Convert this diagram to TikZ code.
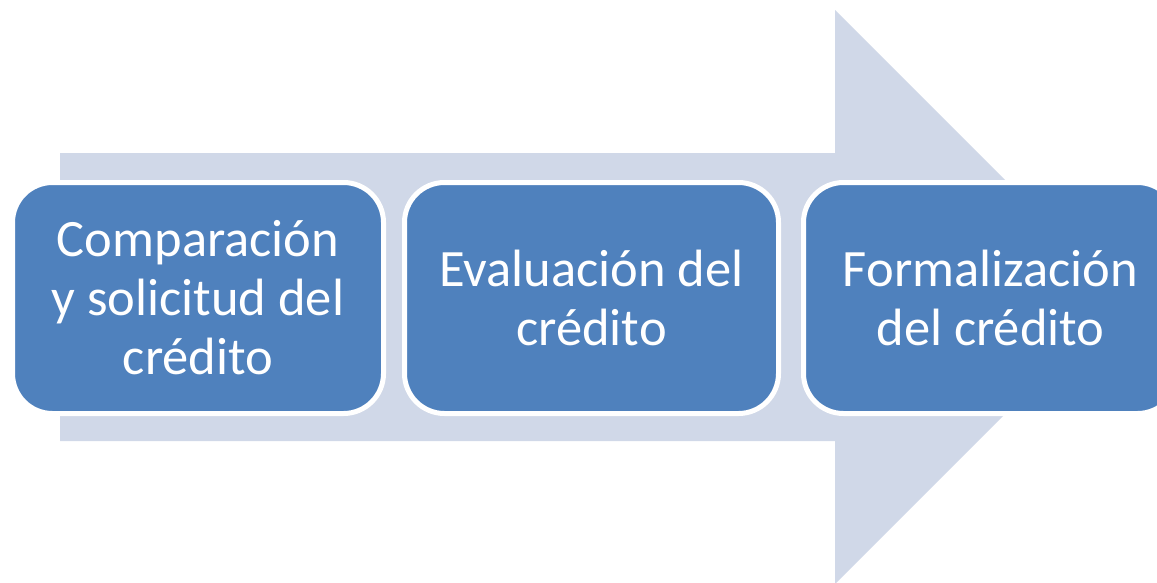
\documentclass[tikz,border=0pt]{standalone}
\usepackage{fontspec}
\setmainfont{Carlito}
\definecolor{arrowfill}{HTML}{D0D8E8}
\definecolor{boxfill}{HTML}{4F81BD}
\begin{document}
\begin{tikzpicture}[x=1pt,y=-1pt,
  stagebox/.style={draw=white, line width=5pt, fill=boxfill, rounded corners=40pt,
    minimum width=372pt, minimum height=231pt, inner sep=0pt, text=white,
    align=center, font=\fontsize{52.5}{59}\selectfont}]
\useasboundingbox (0,0) rectangle (1157,582);
\fill[white] (0,0) rectangle (1157,582);
\fill[arrowfill] (60,153) -- (835,153) -- (835,10) -- (1122,297) -- (835,584) -- (835,441) -- (60,441) -- cycle;
\node[stagebox, minimum width=371pt] (b1) at (198,298) {Comparación\\y solicitud del\\crédito};
\node[stagebox, minimum width=374pt] (b2) at (591.5,298) {Evaluación del\\crédito};
\node[stagebox, minimum width=374pt] (b3) at (990.5,298) {Formalización\\del crédito};
\end{tikzpicture}
\end{document}
